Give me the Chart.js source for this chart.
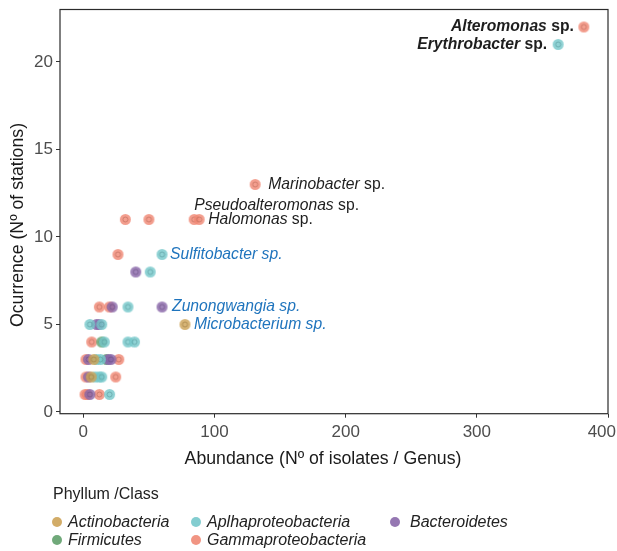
<!DOCTYPE html>
<html><head><meta charset="utf-8">
<script src="https://cdn.jsdelivr.net/npm/chart.js@4.4.1/dist/chart.umd.min.js"></script>
<style>
html,body{margin:0;padding:0;background:#fff;}
#wrap{position:relative;width:617px;height:551px;overflow:hidden;}
#c{position:absolute;left:0;top:0;}
.lg{position:absolute;font-family:"Liberation Sans",Arial,sans-serif;color:#222;white-space:nowrap;}
.lt{font-size:16px;line-height:18px;}
.li{font-size:16px;font-style:italic;line-height:18px;}
.dot{position:absolute;width:10px;height:10px;border-radius:50%;}
</style></head>
<body><div id="wrap"><canvas id="c" width="617" height="551"></canvas>
<div id="legend"></div></div>
<script>
// ---- data ----
const phyla = ["Actinobacteria", "Aplhaproteobacteria", "Bacteroidetes", "Firmicutes", "Gammaproteobacteria"];
const actinoX = [77.5, 8, 6];
const actinoY = [5, 3, 2];
const alphaX = [362, 60, 51, 34, 5, 14, 16, 34, 39, 10, 13, 9, 12, 14, 20];
const alphaY = [21, 9, 8, 6, 5, 5, 4, 4, 4, 3, 3, 2, 2, 2, 1];
const bactX = [60, 40, 22, 10, 12, 4, 19, 21, 4, 5];
const bactY = [6, 8, 6, 5, 5, 3, 3, 3, 2, 1];
const firmX = [14, 17.5];
const firmY = [4, 3];
const gammaX = [381.6, 131, 84.5, 88.3, 32, 50, 26.4, 12.2, 19.8, 6.4, 2, 27, 2, 24.7, 1.3, 3, 12.2];
const gammaY = [22, 13, 11, 11, 11, 11, 9, 6, 6, 4, 3, 3, 2, 2, 1, 1, 1];
const seriesX = [actinoX, alphaX, bactX, firmX, gammaX];
const seriesY = [actinoY, alphaY, bactY, firmY, gammaY];
const xTicks = [0, 100, 200, 300, 400];
const yTicks = [0, 5, 10, 15, 20];
// labelled genera: [genus, phylum index, point index]
const labelGenus = ["Alteromonas", "Erythrobacter", "Marinobacter", "Pseudoalteromonas", "Halomonas", "Sulfitobacter", "Zunongwangia", "Microbacterium"];
const labelPhylum = [4, 1, 4, 4, 4, 1, 2, 0];
const labelPoint = [0, 0, 1, 2, 3, 1, 0, 0];

// ---- styles ----
const colors = [[205,163,88],[118,200,203],[138,104,170],[96,160,108],[240,137,117]];
const labelStyle = {
  Alteromonas:{dx:-10, dy:0, align:'right', bold:true, blue:false},
  Erythrobacter:{dx:-11, dy:0, align:'right', bold:true, blue:false},
  Marinobacter:{dx:13, dy:0, align:'left', bold:false, blue:false},
  Pseudoalteromonas:{dx:0, dy:-14, align:'left', bold:false, blue:false},
  Halomonas:{dx:9, dy:0, align:'left', bold:false, blue:false},
  Sulfitobacter:{dx:8, dy:0, align:'left', bold:false, blue:true},
  Zunongwangia:{dx:10, dy:0, align:'left', bold:false, blue:true},
  Microbacterium:{dx:9, dy:0, align:'left', bold:false, blue:true}
};
const FONT = '"Liberation Sans", Arial, sans-serif';
const LBL = 15.7;

function makeDot(c){
  const cv = document.createElement('canvas');
  cv.width = 13; cv.height = 13;
  const g = cv.getContext('2d');
  g.fillStyle = `rgba(${c[0]},${c[1]},${c[2]},0.82)`;
  g.beginPath(); g.arc(6.5,6.5,5.5,0,Math.PI*2); g.fill();
  g.strokeStyle = `rgba(${Math.round(c[0]*0.8)},${Math.round(c[1]*0.8)},${Math.round(c[2]*0.8)},0.7)`;
  g.lineWidth = 1;
  g.beginPath(); g.arc(6.5,6.5,2.5,0,Math.PI*2); g.stroke();
  return cv;
}

const framePlugin = {
  id:'frame',
  afterDraw(chart){
    const {ctx, chartArea:a} = chart;
    ctx.save();
    ctx.strokeStyle = '#2b2b2b'; ctx.lineWidth = 1.2;
    ctx.strokeRect(a.left, a.top, a.right-a.left, a.bottom-a.top);
    ctx.restore();
  }
};
const titlePlugin = {
  id:'axisTitles',
  afterDraw(chart){
    const {ctx, scales:{x}} = chart;
    ctx.save();
    // x tick labels (kept inside the canvas)
    ctx.fillStyle = '#4d4d4d';
    ctx.font = `17px ${FONT}`;
    ctx.textBaseline = 'middle'; ctx.textAlign = 'center';
    xTicks.forEach(v => {
      const s = String(v);
      const w = ctx.measureText(s).width;
      let px = x.getPixelForValue(v);
      px = Math.min(px, chart.width - 1 - w/2);
      ctx.fillText(s, px, x.top + 18.5);
    });
    ctx.fillStyle = '#1a1a1a';
    ctx.font = `17.7px ${FONT}`;
    ctx.textAlign = 'center'; ctx.textBaseline = 'middle';
    ctx.fillText('Abundance (Nº of isolates / Genus)', 323, 459);
    ctx.translate(18, 225); ctx.rotate(-Math.PI/2);
    ctx.fillText('Ocurrence (Nº of stations)', 0, 0);
    ctx.restore();
  }
};
const labelPlugin = {
  id:'ptLabels',
  afterDatasetsDraw(chart){
    const {ctx, scales:{x, y}} = chart;
    ctx.save();
    ctx.textBaseline = 'middle';
    labelGenus.forEach((g, i) => {
      const p = labelPhylum[i], k = labelPoint[i];
      const px = x.getPixelForValue(seriesX[p][k]);
      const py = y.getPixelForValue(seriesY[p][k]);
      const s = labelStyle[g];
      const w = s.bold ? 'bold ' : '';
      const f1 = `italic ${w}${LBL}px ${FONT}`;
      const f2 = s.blue ? f1 : `${w}${LBL}px ${FONT}`;
      ctx.font = f1; const w1 = ctx.measureText(g).width;
      ctx.font = f2; const w2 = ctx.measureText(' sp.').width;
      let sx = px + s.dx;
      if (s.align === 'right') sx = px + s.dx - w1 - w2;
      const ty = py + s.dy;
      ctx.fillStyle = s.blue ? '#1f74bd' : '#1e1e1e';
      ctx.textAlign = 'left';
      ctx.font = f1; ctx.fillText(g, sx, ty);
      ctx.font = f2; ctx.fillText(' sp.', sx + w1, ty);
    });
    ctx.restore();
  }
};

const datasets = phyla.map((name, i) => ({
  label: name,
  data: seriesX[i].map((v, j) => ({x: v, y: seriesY[i][j]})),
  pointStyle: makeDot(colors[i]),
  pointRadius: 5.5,
  pointHoverRadius: 5.5
}));

new Chart(document.getElementById('c'), {
  type: 'scatter',
  data: {datasets},
  options: {
    responsive: false, animation: false, devicePixelRatio: 1,
    layout: {padding: {left: 0, right: 9, top: 9.5, bottom: 97.3}},
    plugins: {legend: {display: false}, tooltip: {enabled: false}},
    scales: {
      x: {
        type: 'linear', min: -17.8, max: 400,
        afterBuildTicks: s => { s.ticks = xTicks.map(v => ({value: v})); },
        afterFit: s => { s.height = 40; s.paddingLeft = 0; s.paddingRight = 0; },
        grid: {drawOnChartArea: false, drawTicks: true, tickLength: 4, color: '#333', lineWidth: 1},
        border: {display: false},
        ticks: {display: false}
      },
      y: {
        type: 'linear', min: -0.1, max: 23,
        afterBuildTicks: s => { s.ticks = yTicks.map(v => ({value: v})); },
        afterFit: s => { s.width = 60; s.paddingTop = 0; s.paddingBottom = 0; },
        grid: {drawOnChartArea: false, drawTicks: true, tickLength: 4, color: '#333', lineWidth: 1},
        border: {display: false},
        ticks: {color: '#4d4d4d', font: {family: FONT, size: 17}, padding: 3}
      }
    }
  },
  plugins: [framePlugin, labelPlugin, titlePlugin]
});

// ---- HTML legend ----
const legend = document.getElementById('legend');
const title = document.createElement('div');
title.className = 'lg lt'; title.style.left = '53px'; title.style.top = '485px';
title.textContent = 'Phyllum /Class';
legend.appendChild(title);
const legendPos = [[52,513],[191,513],[390,513],[52,531],[191,531]];
phyla.forEach((name, i) => {
  const [lx, ly] = legendPos[i];
  const d = document.createElement('div');
  d.className = 'dot';
  d.style.left = lx + 'px'; d.style.top = (ly + 4) + 'px';
  const c = colors[i];
  d.style.background = `rgba(${c[0]},${c[1]},${c[2]},0.9)`;
  legend.appendChild(d);
  const t = document.createElement('div');
  t.className = 'lg li';
  t.style.left = (lx + (i === 2 ? 20 : 16)) + 'px'; t.style.top = ly + 'px';
  t.textContent = name;
  legend.appendChild(t);
});
</script></body></html>
